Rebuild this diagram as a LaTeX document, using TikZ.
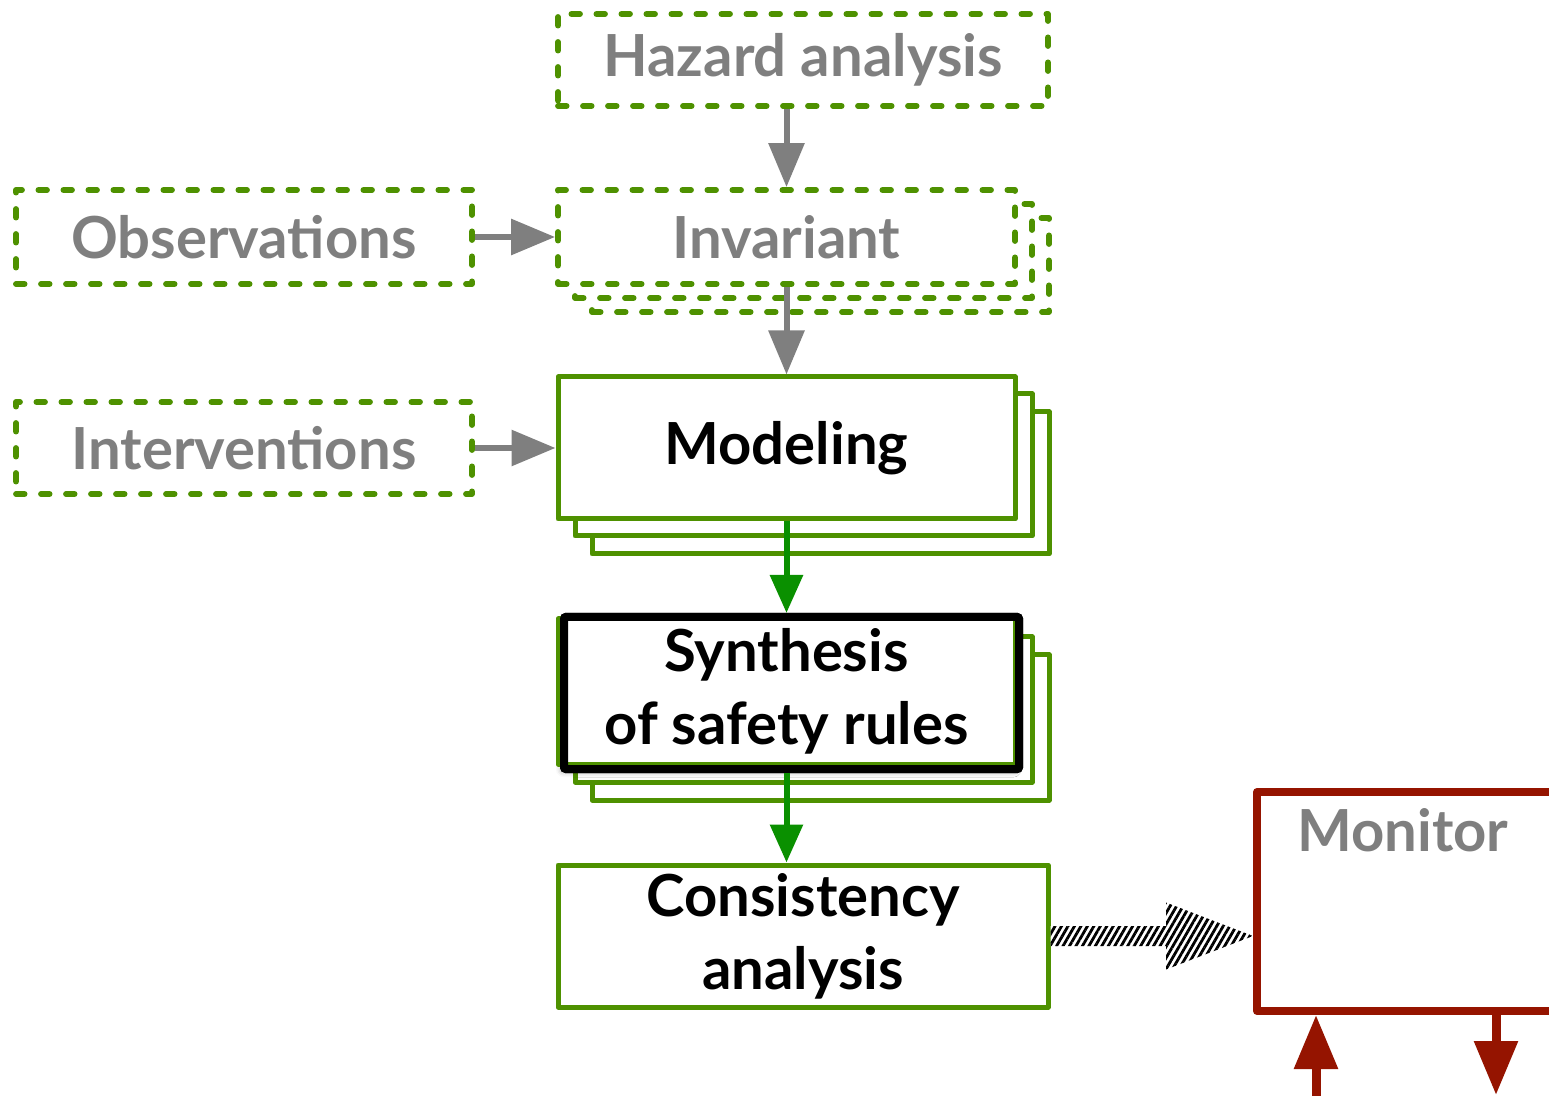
\documentclass[tikz,border=0pt]{standalone}
\usepackage{fontspec}
\setmainfont{Lato}
\usetikzlibrary{arrows.meta,patterns.meta,shadows.blur,calc}
\definecolor{boxgreen}{HTML}{4E9100}
\definecolor{flowgreen}{HTML}{0A9000}
\definecolor{txtgray}{HTML}{7F7F7F}
\definecolor{monred}{HTML}{951400}
\begin{document}
\begin{tikzpicture}[x=0.5pt,y=-0.5pt,
  every node/.style={font=\fontsize{29}{36.5}\selectfont\bfseries, align=center, inner sep=0pt},
  greenbox/.style={draw=boxgreen, line width=2.5pt, fill=white, line join=round},
  dashedbox/.style={greenbox, line width=2.9pt, line cap=round, dash pattern=on 4.3pt off 8.2pt},
  widebox/.style={minimum width=245pt},
  stdbox/.style={minimum width=228.5pt},
  grayarrow/.style={draw=txtgray, line width=3pt, -{Triangle[width=17.5pt,length=22pt]}},
  greenarrow/.style={draw=flowgreen, line width=3pt, -{Triangle[width=16pt,length=19pt]}},
  redarrow/.style={draw=monred, line width=4.5pt, -{Triangle[width=21pt,length=27pt]}},
  graytext/.style={text=txtgray},
]
\useasboundingbox (0,0) rectangle (1549,1096);

% top: hazard analysis
\node[dashedbox, widebox, minimum height=46pt, graytext] (hazard) at (803,60) {Hazard analysis};

% left inputs
\node[dashedbox, minimum width=228pt, minimum height=47pt, graytext] (obs) at (244,237) {Observations};
\node[dashedbox, minimum width=228pt, minimum height=46pt, graytext] (interv) at (244,448) {Interventions};

% invariant stack
\node[dashedbox, stdbox, minimum height=47pt] (inv3) at (820.5,265) {};
\node[dashedbox, stdbox, minimum height=47pt] (inv2) at (803.5,251) {};
\node[dashedbox, stdbox, minimum height=47pt, graytext] (inv) at (786.5,237) {Invariant};

% modeling stack
\node[greenbox, stdbox, minimum height=71pt] (model3) at (820.5,483) {};
\node[greenbox, stdbox, minimum height=71pt] (model2) at (803.5,465) {};
\node[greenbox, stdbox, minimum height=71pt] (model) at (786.5,448) {Modeling};

% synthesis stack with highlighted frame (shadow first, frame redrawn on top)
\node[greenbox, stdbox, minimum height=72.5pt] (synth3) at (820.5,727.5) {};
\node[greenbox, stdbox, minimum height=72.5pt] (synth2) at (803.5,709.5) {};
\node[draw=black, line width=4pt, rounded corners=1pt, minimum width=227.5pt, minimum height=76pt,
      blur shadow={shadow xshift=-1.5pt, shadow yshift=-1.5pt, shadow blur radius=2.5pt, shadow opacity=35}]
      (synthframe) at (791.5,693) {};
\node[greenbox, stdbox, minimum height=72.5pt] (synth) at (786.5,691.5) {Synthesis\\of safety rules};
\draw[black, line width=4pt, rounded corners=1pt] (synthframe.center) ++(-113.75pt,38pt) rectangle ++(227.5pt,-76pt);

% consistency analysis
\node[greenbox, widebox, minimum height=71pt] (cons) at (803,936) {Consistency\\analysis};

% monitor
\node[draw=monred, line width=4pt, fill=white, line join=round, minimum width=151.5pt, minimum height=109.5pt] (monitor) at (1408.5,901.5) {};
\node[graytext] (monlabel) at (1403,830) {Monitor};

% flow connectors
\draw[grayarrow] (inv.north |- hazard.south) -- (inv.north);
\draw[grayarrow] (obs.east) -- (obs.east -| inv.west);
\draw[grayarrow] (inv.south) -- (model.north);
\draw[grayarrow] (interv.east) -- (interv.east -| model.west);
\draw[greenarrow] (model.south) -- (synthframe.north -| model.south);
\draw[greenarrow] (synthframe.south -| synth.south) -- (cons.north -| synth.south);

% hatched transfer arrow
\coordinate (hs) at (cons.east);
\coordinate (ht) at (monitor.west |- cons.east);
\path[fill=white, postaction={pattern={Lines[angle=60, distance=2.8pt, line width=1.4pt]}}]
  ($(hs)+(0,-10)$) -- ($(ht)+(-87,-10)$) -- ($(ht)+(-87,-33.5)$) -- (ht)
  -- ($(ht)+(-87,33.5)$) -- ($(ht)+(-87,10)$) -- ($(hs)+(0,10)$) -- cycle;

% monitor input and output
\coordinate (monin) at (1316,1100);
\coordinate (monout) at (1496,1095);
\draw[redarrow] (monin) -- (monin |- monitor.south);
\draw[redarrow] (monout |- monitor.south) -- (monout);
\end{tikzpicture}
\end{document}
